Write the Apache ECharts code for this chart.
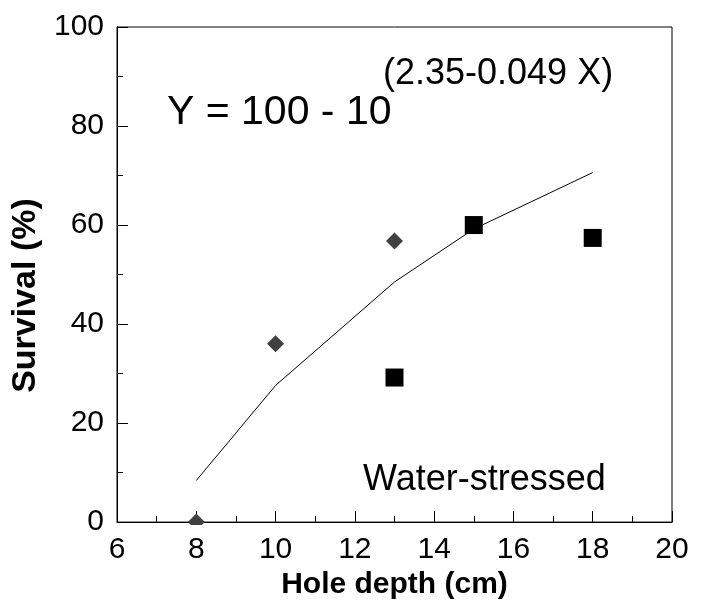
<!DOCTYPE html>
<html>
<head>
<meta charset="utf-8">
<script src="https://cdn.jsdelivr.net/npm/echarts@6/dist/echarts.min.js"></script>
<style>
  html, body { margin: 0; padding: 0; background: #fff; }
  #chart { width: 704px; height: 605px; }
</style>
</head>
<body>
<div id="chart"></div>
<script>
// data
var diamondX = [8, 10, 13]
var diamondY = [0, 36, 56.8]
var squareX = [13, 15, 18]
var squareY = [29.2, 60, 57.4]
// fitted curve, read at the points where it bends
var fitX = [8, 10, 13, 15, 18]
var fitY = [8.4, 27.6, 48.5, 59.2, 70.6]

var xTicks = [6, 8, 10, 12, 14, 16, 18, 20]
var yTicks = [0, 20, 40, 60, 80, 100]

function pairs(xs, ys) {
  return xs.map(function (x, i) { return [x, ys[i]] })
}

var font = 'Arial, "Liberation Sans", sans-serif'
var myChart = echarts.init(document.getElementById('chart'), null, { renderer: 'canvas' })

var option = {
  animation: false,
  backgroundColor: '#fff',
  grid: {
    left: 117, right: 32, top: 27, bottom: 81,
    show: true, borderColor: '#000', borderWidth: 1
  },
  xAxis: {
    type: 'value',
    min: xTicks[0], max: xTicks[xTicks.length - 1], interval: 2,
    name: 'Hole depth (cm)',
    nameLocation: 'middle',
    nameGap: 45,
    nameTextStyle: { fontFamily: font, fontWeight: 'bold', fontSize: 30, color: '#000' },
    axisLine: { show: true, lineStyle: { color: '#000', width: 1 } },
    axisTick: { show: true, inside: true, length: 11, lineStyle: { color: '#000' } },
    minorTick: { show: true, splitNumber: 2, length: 6, lineStyle: { color: '#000' } },
    axisLabel: { fontFamily: font, fontSize: 30, color: '#000', margin: 13 },
    splitLine: { show: false }
  },
  yAxis: {
    type: 'value',
    min: yTicks[0], max: yTicks[yTicks.length - 1], interval: 20,
    name: 'Survival (%)',
    nameLocation: 'middle',
    nameGap: 73,
    nameTextStyle: {
      fontFamily: font, fontWeight: 'bold', fontSize: 34, color: '#000',
      padding: [0, 42, 0, 0]
    },
    axisLine: { show: true, lineStyle: { color: '#000', width: 1 } },
    axisTick: { show: true, inside: true, length: 11, lineStyle: { color: '#000' } },
    minorTick: { show: true, splitNumber: 2, length: 6, lineStyle: { color: '#000' } },
    axisLabel: { fontFamily: font, fontSize: 30, color: '#000', margin: 13 },
    splitLine: { show: false }
  },
  series: [
    {
      name: 'fit',
      type: 'line',
      data: pairs(fitX, fitY),
      showSymbol: false,
      symbol: 'none',
      lineStyle: { color: '#000', width: 1 },
      z: 2
    },
    {
      name: 'diamonds',
      type: 'scatter',
      data: pairs(diamondX, diamondY),
      symbol: 'diamond',
      symbolSize: [17, 17],
      itemStyle: { color: '#404040', opacity: 1 },
      z: 3
    },
    {
      name: 'squares',
      type: 'scatter',
      data: pairs(squareX, squareY),
      symbol: 'rect',
      symbolSize: 18,
      itemStyle: { color: '#000', opacity: 1 },
      z: 3
    }
  ],
  graphic: [
    // white strip under the x axis line so the diamond at y=0 shows only above it
    {
      type: 'rect', z: 100,
      shape: { x: 180, y: 525, width: 36, height: 10 },
      style: { fill: '#fff' }
    },
    {
      type: 'text', x: 167, y: 113, z: 100,
      style: { text: 'Y = 100 - 10', font: '41px ' + font, fill: '#000', verticalAlign: 'middle' }
    },
    {
      type: 'text', x: 383, y: 74, z: 100,
      style: { text: '(2.35-0.049 X)', font: '36px ' + font, fill: '#000', verticalAlign: 'middle' }
    },
    {
      type: 'text', x: 363, y: 480, z: 100,
      style: { text: 'Water-stressed', font: '36px ' + font, fill: '#000', verticalAlign: 'middle' }
    }
  ]
}

myChart.setOption(option, true)
window.onresize = function () {
  myChart.resize()
}
</script>
</body>
</html>
